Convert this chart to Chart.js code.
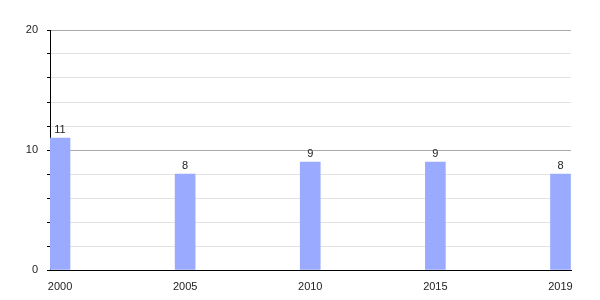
<!DOCTYPE html>
<html lang="en">
<head>
<meta charset="UTF-8">
<script src="https://cdn.jsdelivr.net/npm/chart.js"></script>
<style>
  body { margin: 0; background: #fff; }
  #wrap { width: 600px; height: 300px; }
</style>
</head>
<body>
<div id="wrap"><canvas id="myChart"></canvas></div>
<script>
const years = ['2000', '2005', '2010', '2015', '2019'];
const counts = [11, 8, 9, 9, 8];
const yTicksLabeled = [0, 10, 20];

const FONT = { family: 'Liberation Sans, Arial, sans-serif', size: 11 };

// draw the value above each bar
const valueLabels = {
  id: 'valueLabels',
  afterDatasetsDraw(chart) {
    const ctx = chart.ctx;
    const meta = chart.getDatasetMeta(0);
    ctx.save();
    ctx.font = FONT.size + 'px ' + FONT.family;
    ctx.fillStyle = '#222';
    ctx.textAlign = 'center';
    ctx.textBaseline = 'bottom';
    meta.data.forEach((bar, i) => {
      ctx.fillText(String(counts[i]), bar.x, bar.y - 3);
    });
    ctx.restore();
  }
};

const ctx = document.getElementById('myChart').getContext('2d');
new Chart(ctx, {
  type: 'bar',
  data: {
    datasets: [{
      data: counts.map((v, i) => ({ x: i, y: v })),
      backgroundColor: '#99aaff',
      barThickness: 20
    }]
  },
  options: {
    responsive: true,
    maintainAspectRatio: false,
    animation: false,
    layout: { padding: { top: 30, right: 29, left: 0, bottom: 0 } },
    plugins: { legend: { display: false }, tooltip: { enabled: false } },
    scales: {
      x: {
        type: 'linear',
        offset: false,
        min: -0.08,
        max: 4.084,
        grid: { display: false, offset: false },
        border: { color: '#000', width: 1 },
        ticks: {
          stepSize: 1,
          includeBounds: false,
          padding: 2,
          color: '#222',
          font: FONT,
          maxRotation: 0,
          callback: v => (Number.isInteger(v) && years[v]) ? years[v] : ''
        },
        afterFit(scale) { scale.height = 30; }
      },
      y: {
        min: 0,
        max: 20,
        grid: {
          color: c => (c.tick && c.tick.value % 10 === 0) ? '#aaaaaa' : '#e2e2e2',
          tickColor: '#000',
          tickLength: 3
        },
        border: { color: '#000', width: 1 },
        ticks: {
          stepSize: 2,
          padding: 9,
          color: '#222',
          font: FONT,
          autoSkip: false,
          callback: v => yTicksLabeled.includes(v) ? v : ''
        },
        afterFit(scale) { scale.width = 50; }
      }
    }
  },
  plugins: [valueLabels]
});
</script>
</body>
</html>
